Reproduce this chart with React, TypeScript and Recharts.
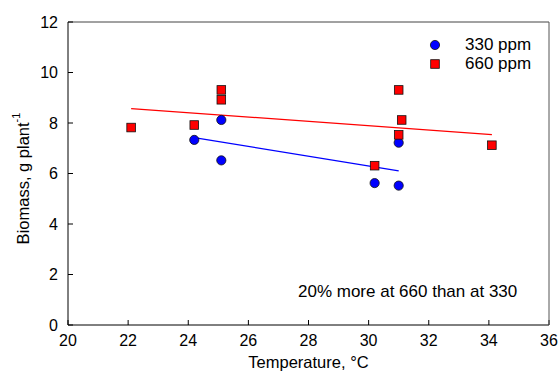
import { ScatterChart, Scatter, XAxis, YAxis, Legend } from "recharts";

// temperature (°C) vs biomass (g plant^-1)
const temp330 = [24.2, 25.1, 25.1, 31.0, 30.2, 31.0];
const mass330 = [7.33, 8.12, 6.52, 7.22, 5.62, 5.52];
const temp660 = [22.1, 24.2, 25.1, 25.1, 31.0, 31.1, 31.0, 30.2, 34.1];
const mass660 = [7.82, 7.92, 9.31, 8.92, 9.31, 8.12, 7.53, 6.31, 7.12];

// regression line end points
const fitTemp330 = [24.25, 31.0];
const fitMass330 = [7.41, 6.1];
const fitTemp660 = [22.1, 34.1];
const fitMass660 = [8.57, 7.54];

const xTicks = [20, 22, 24, 26, 28, 30, 32, 34, 36];
const yTicks = [0, 2, 4, 6, 8, 10, 12];

const note = "20% more at 660 than at 330";

const zip = (xs: number[], ys: number[]) => xs.map((t, i) => ({ t, m: ys[i] }));

const pts330 = zip(temp330, mass330);
const pts660 = zip(temp660, mass660);
const fit330 = zip(fitTemp330, fitMass330);
const fit660 = zip(fitTemp660, fitMass660);

const FONT = "'Liberation Sans', Arial, sans-serif";

function Dot(props: any) {
  return <circle cx={props.cx} cy={props.cy} r={4.6} fill="#0000ff" stroke="#111" strokeWidth={0.8} />;
}

function Square(props: any) {
  return (
    <rect x={props.cx - 4.3} y={props.cy - 4.3} width={8.6} height={8.6} fill="#ff0000" stroke="#111" strokeWidth={0.8} />
  );
}

const Nothing = () => <g />;

function YTitle(props: any) {
  const vb = props.viewBox || { x: 0, y: 0, width: 0, height: 0 };
  const cx = 23;
  const cy = vb.y + vb.height / 2 + 5;
  return (
    <text
      x={cx}
      y={cy}
      transform={`rotate(-90 ${cx} ${cy})`}
      textAnchor="middle"
      dominantBaseline="central"
      fontSize={16.5}
      fill="#000"
    >
      Biomass, g plant
      <tspan fontSize={11} dy={-7}>-1</tspan>
    </text>
  );
}

function LegendBox() {
  const rows = [
    { label: "330 ppm", shape: "circle" },
    { label: "660 ppm", shape: "square" },
  ];
  return (
    <div style={{ fontFamily: FONT, fontSize: 17, color: "#000" }}>
      {rows.map((r) => (
        <div key={r.label} style={{ display: "flex", alignItems: "center", height: 19 }}>
          <svg width={14} height={14} style={{ marginRight: 23 }}>
            {r.shape === "circle" ? (
              <circle cx={7} cy={7} r={4.6} fill="#0000ff" stroke="#111" strokeWidth={0.8} />
            ) : (
              <rect x={2.7} y={2.7} width={8.6} height={8.6} fill="#ff0000" stroke="#111" strokeWidth={0.8} />
            )}
          </svg>
          <span>{r.label}</span>
        </div>
      ))}
    </div>
  );
}

export default function App() {
  const tickStyle = { fill: "#000", fontSize: 16, fontFamily: FONT };
  return (
    <div style={{ position: "absolute", left: 0, top: 0, width: 559, height: 374, background: "#fff", fontFamily: FONT }}>
      <ScatterChart width={559} height={374} margin={{ top: 20, right: 8, bottom: 9, left: 8 }}>
        <XAxis
          xAxisId="b"
          type="number"
          dataKey="t"
          domain={[20, 36]}
          ticks={xTicks}
          interval={0}
          height={40}
          tick={tickStyle}
          tickSize={-5}
          tickMargin={15}
          axisLine={{ stroke: "#000" }}
          tickLine={{ stroke: "#000" }}
          label={{ value: "Temperature, °C", position: "insideBottom", offset: -3, fill: "#000", fontSize: 16.5, fontFamily: FONT }}
        />
        <XAxis
          xAxisId="t"
          orientation="top"
          type="number"
          dataKey="t"
          domain={[20, 36]}
          ticks={xTicks}
          interval={0}
          height={2}
          tick={false}
          tickSize={-5}
          axisLine={{ stroke: "#444" }}
          tickLine={{ stroke: "#444" }}
        />
        <YAxis
          yAxisId="l"
          type="number"
          dataKey="m"
          domain={[0, 12]}
          ticks={yTicks}
          interval={0}
          width={60}
          tick={tickStyle}
          tickSize={-5}
          tickMargin={15}
          axisLine={{ stroke: "#000" }}
          tickLine={{ stroke: "#000" }}
          label={<YTitle />}
        />
        <YAxis
          yAxisId="r"
          orientation="right"
          type="number"
          dataKey="m"
          domain={[0, 12]}
          ticks={yTicks}
          interval={0}
          width={2}
          tick={false}
          tickSize={-5}
          axisLine={{ stroke: "#555" }}
          tickLine={{ stroke: "#555" }}
        />
        <Legend
          verticalAlign="middle"
          align="center"
          layout="vertical"
          wrapperStyle={{ left: 428, top: 35, width: 130, height: 40 }}
          content={() => <LegendBox />}
        />
        <Scatter
          name="660 fit"
          data={fit660}
          xAxisId="b"
          yAxisId="l"
          line={{ stroke: "#ff0000", strokeWidth: 1.3 }}
          shape={Nothing}
          legendType="none"
          isAnimationActive={false}
        />
        <Scatter
          name="330 fit"
          data={fit330}
          xAxisId="b"
          yAxisId="l"
          line={{ stroke: "#0000ff", strokeWidth: 1.3 }}
          shape={Nothing}
          legendType="none"
          isAnimationActive={false}
        />
        <Scatter name="330 ppm" data={pts330} xAxisId="b" yAxisId="l" shape={Dot} isAnimationActive={false} />
        <Scatter name="660 ppm" data={pts660} xAxisId="b" yAxisId="l" shape={Square} isAnimationActive={false} />
      </ScatterChart>
      <div
        style={{
          position: "absolute",
          left: 298,
          top: 282,
          fontSize: 17,
          color: "#000",
          whiteSpace: "nowrap",
        }}
      >
        {note}
      </div>
    </div>
  );
}
